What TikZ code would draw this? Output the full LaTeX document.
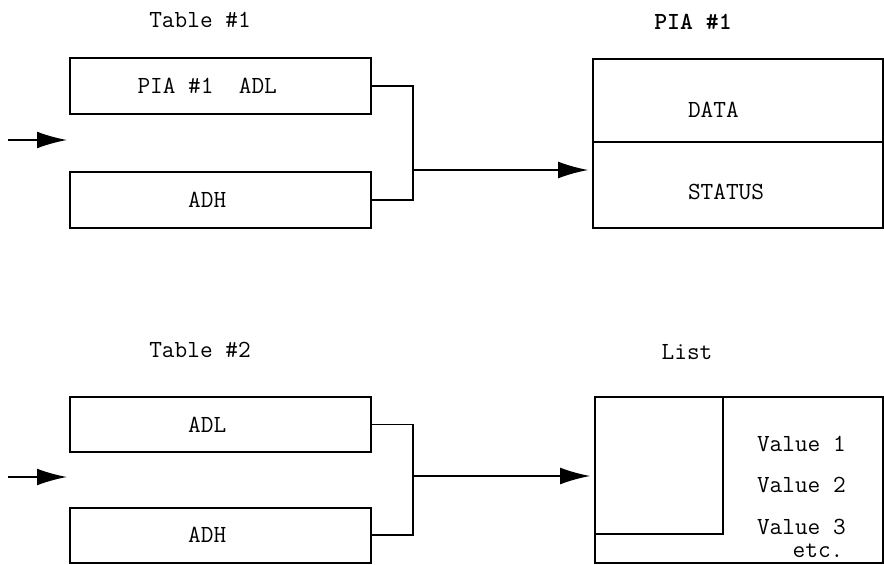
\documentclass[tikz,border=0pt]{standalone}
\usepackage{tikz}
\usetikzlibrary{arrows.meta,calc}

\begin{document}
\begin{tikzpicture}[every node/.style={inner sep=0,outer sep=0},
    font=\fontsize{17.5}{20}\selectfont\ttfamily, line width=1.2pt,
    regbox/.style={draw,minimum width=7.525cm,minimum height=1.4cm},
    feed/.style={-{Latex[length=7.5mm,width=4.2mm]}}]
    \useasboundingbox (0,0) rectangle (22.1,14.1);
    % table 1 and the PIA
    \node(t1) at (5,13.6) {Table \#1};
    \node[regbox,label={[xshift=-0.33cm]center:PIA \#1~~ADL}](adl1) at (5.51,11.95) {};
    \node[regbox,label={[xshift=-0.33cm]center:ADH}](adh1) at (5.51,9.1) {};
    \node(p1) at (17.325,13.55) {\bfseries PIA \#1};
    \node[draw,minimum width=7.25cm,minimum height=2.075cm](data) at (18.45,11.5875) {};
    \node[draw,minimum width=7.25cm,minimum height=2.15cm](status) at (18.45,9.475) {};
    \node[anchor=west](datat) at (17.2,11.35) {DATA};
    \node[anchor=west](statust) at (17.2,9.3) {STATUS};
    \coordinate(in1) at (0.2,10.6);
    \coordinate(in1e) at (1.675,10.6);
    \coordinate(j1) at (10.325,9.85);
    \draw[feed] (in1) -- (in1e);
    \draw (adl1.east) -| (j1) |- (adh1.east);
    \draw[feed,shorten >=1.2mm] (j1) -- (status.west |- j1);
    % table 2 and the list
    \node(t2) at (5,5.35) {Table \#2};
    \node[regbox,minimum height=1.375cm,label={[xshift=-0.33cm]center:ADL}](adl2) at (5.51,3.4875) {};
    \node[regbox,minimum height=1.375cm,label={[xshift=-0.33cm]center:ADH}](adh2) at (5.51,0.72) {};
    \node(l1) at (17.175,5.3) {List};
    \node[draw,minimum width=7.2cm,minimum height=4.15cm](list) at (18.475,2.1) {};
    \node[draw,anchor=north west,minimum width=3.2cm,minimum height=3.425cm](slot) at (list.north west) {};
    \foreach \i/\y in {1/3.0,2/1.975,3/0.925}
        \node[anchor=west](v\i) at (18.925,\y) {Value \i};
    \node(etc) at (20.45,0.32) {etc.};
    \coordinate(in2) at (0.2,2.175);
    \coordinate(in2e) at (1.675,2.175);
    \coordinate(j2) at (10.325,2.2);
    \draw[feed] (in2) -- (in2e);
    \draw (adl2.east) -| (j2) |- (adh2.east);
    \draw[feed,shorten >=1.2mm] (j2) -- (list.west |- j2);
\end{tikzpicture}
\end{document}
